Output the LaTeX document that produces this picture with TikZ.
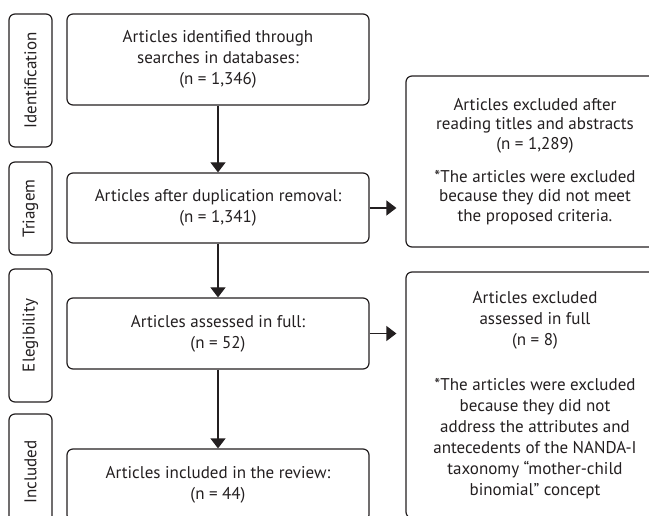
\documentclass[tikz,border=0pt]{standalone}
\usepackage{fontspec}
\setmainfont{PT Sans}
\usetikzlibrary{arrows.meta}
\definecolor{ink}{HTML}{231F20}
\newcommand{\gapline}[1]{\rule{0pt}{#1}}
\begin{document}
\begin{tikzpicture}[x=1pt,y=-1pt,
  txt/.style={font=\fontsize{17}{21}\selectfont, text=ink},
  box/.style={txt, draw=ink, line width=1.2pt, rounded corners=6pt, align=center, inner sep=0pt},
  side/.style={box, rotate=90, minimum height=43pt},
  arr/.style={draw=ink, line width=1.2pt, -{Triangle[width=15pt,length=10pt]}}]
\clip (0,0) rectangle (649,516);
% side labels
\node[side, minimum width=133pt] (s1) at (30.5,80.5) {Identification};
\node[side, minimum width=93pt]  (s2) at (30.5,208.5) {Triagem};
\node[side, minimum width=133pt] (s3) at (30.5,335.5) {Elegibility};
\node[side, minimum width=116pt] (s4) at (30.5,472) {Included};
% main boxes
\node[box, minimum width=302pt, minimum height=91pt] (b1) at (218,59.5)
  {Articles identified through\\searches in databases:\\(n = 1,346)};
\node[box, minimum width=302pt, minimum height=70pt] (b2) at (218,208)
  {Articles after duplication removal:\\(n = 1,341)};
\node[box, minimum width=302pt, minimum height=71pt] (b3) at (218,333.5)
  {Articles assessed in full:\\(n = 52)};
\node[box, minimum width=302pt, minimum height=72pt] (b4) at (218,485)
  {Articles included in the review:\\(n = 44)};
% right boxes
\node[box, font=\fontsize{17}{19.5}\selectfont, minimum width=258pt, minimum height=171pt] (r1) at (535,161.5)
  {Articles excluded after\\reading titles and abstracts\\(n = 1,289)\\\gapline{28pt}*The articles were excluded\\because they did not meet\\the proposed criteria.};
\node[box, minimum width=258pt, minimum height=246pt] (r2) at (535,395)
  {Articles excluded\\assessed in full\\(n = 8)\\\gapline{40pt}*The articles were excluded\\because they did not\\address the attributes and\\antecedents of the NANDA-I\\taxonomy \char"201Cmother-child\\binomial\char"201D\ concept};
% connectors
\draw[arr] (b1) -- (b2);
\draw[arr] (b2) -- (b3);
\draw[arr] (b3) -- (b4);
\draw[arr, shorten >=9pt] (b2) -- (b2 -| r1.west);
\draw[arr, shorten >=9pt] (b3) -- (b3 -| r2.west);
\end{tikzpicture}
\end{document}
